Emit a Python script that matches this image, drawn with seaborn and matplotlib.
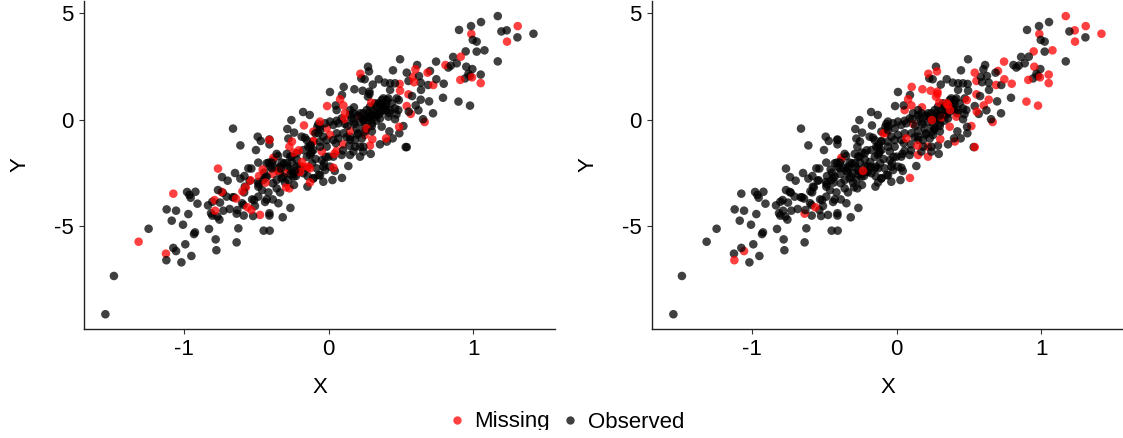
import numpy as np
import pandas as pd
import matplotlib
matplotlib.use("Agg")
import matplotlib.pyplot as plt
from matplotlib.lines import Line2D
from matplotlib.patches import Rectangle
import seaborn as sns

# observed in both panels
oo = [(-1.544,-9.15),(-1.485,-7.35),(-1.245,-5.13),(-1.074,-6.03),(-1.018,-6.71),(-0.949,-6.41),(-0.991,-5.86),
(-0.931,-5.38),(-0.924,-5.30),(-1.085,-4.75),(-1.007,-4.94),(-1.120,-4.22),(-1.055,-4.28),(-0.970,-4.44),(-0.907,-3.95),
(-0.979,-3.40),(-0.921,-3.39),(-0.963,-3.54),(-0.954,-3.67),(-0.834,-4.03),(-0.827,-5.14),(-0.781,-5.63),(-0.776,-6.14),
(-0.636,-5.77),(-0.624,-5.11),(-0.449,-5.22),(-0.407,-5.22),(-0.409,-4.40),(-0.409,-4.51),(-0.317,-4.59),(-0.264,-4.15),
(-0.813,-4.40),(-0.804,-4.51),(-0.769,-4.56),(-0.755,-4.70),(-0.728,-4.28),(-0.684,-4.20),(-0.631,-4.25),(-0.587,-4.51),
(-0.522,-4.53),(-0.804,-3.86),(-0.751,-3.90),(-0.765,-3.31),(-0.732,-3.43),(-0.705,-3.62),(-0.663,-3.65),(-0.654,-3.65),
(-0.598,-3.93),(-0.589,-4.01),(-0.529,-3.75),(-0.515,-3.78),(-0.509,-4.06),(-0.486,-3.62),(-0.439,-3.87),(-0.428,-3.75),
(-0.386,-3.75),(-0.347,-3.93),(-0.416,-3.42),(-0.336,-3.42),(-0.359,-3.23),(-0.460,-3.31),(-0.584,-3.42),(-0.579,-3.15),
(-0.483,-3.03),(-0.488,-2.93),(-0.546,-2.87),(-0.610,-2.77),(-0.582,-2.65),(-0.647,-2.51),(-0.737,-2.70),(-0.698,-2.87),
(-0.555,-2.29),(-0.534,-2.30),(-0.486,-2.02),(-0.502,-1.43),(-0.610,-1.21),(-0.661,-0.42),(-0.490,-0.80),(-0.469,-1.00),
(-0.409,-0.93),(-0.409,-1.16),(-0.285,-0.44),(-0.257,-0.02),(-0.176,0.36),(-0.130,0.22),(-0.238,-0.61),(-0.278,-0.89),
(-0.289,-1.61),(-0.255,-1.74),(-0.359,-1.61),(-0.349,-1.71),(-0.414,-2.02),(-0.393,-2.02),(-0.324,-2.02),(-0.446,-2.49),
(-0.437,-2.73),(-0.386,-2.99),(-0.393,-2.29),(-0.340,-2.49),(-0.324,-2.76),(-0.301,-2.96),(-0.239,-3.07),(-0.146,-3.15),
(-0.105,-2.76),(-0.144,-2.66),(-0.206,-2.46),(-0.262,-2.57),(-0.243,-2.52),(-0.225,-2.65),(-0.308,-2.05),(-0.253,-2.02),
(-0.220,-1.87),(-0.114,-2.05),(-0.123,-1.19),(-0.123,-1.58),(-0.105,-1.43),(-0.186,-0.80),(-0.163,-0.85),(-0.140,-1.27),
(-0.077,-0.33),(-0.070,-0.20),(-0.068,-2.60),
(1.055,4.59),(0.986,4.40),(0.903,4.22),(1.196,4.15),(1.307,3.87),(0.998,3.75),(1.025,3.67),(1.025,3.20),(0.862,2.95),
(1.171,2.74),(0.846,2.54),(0.829,2.45),(0.887,2.65),(0.995,2.38),(0.968,2.15),(0.979,2.05),(0.945,1.94),(0.792,1.03),
(0.696,0.86),(0.723,0.30),(0.654,0.02),(0.622,0.44),(0.640,1.40),(0.638,1.74),(0.613,2.57),(0.626,2.05),(0.495,2.84),
(0.446,2.32),(0.460,1.71),(0.426,1.71),(0.389,1.74),(0.347,1.90),(0.306,1.65),(0.273,2.49),(0.250,1.90),(0.227,1.94),
(0.010,1.30),(0.093,1.16),(0.050,0.67),(0.149,0.45),(0.056,-0.05),(0.010,-0.09),(-0.059,-0.49),(0.172,-0.09),(0.255,0.06),
(0.276,0.30),(0.310,0.45),(0.368,0.92),(0.414,1.00),(0.426,1.40),(0.578,1.11),(0.472,1.00),(0.437,0.77),(0.483,0.45),
(0.490,-0.64),(0.421,-0.55),(0.444,-0.88),(0.356,-1.16),(0.292,-1.61),(0.534,-1.29),(0.299,-0.30),(0.249,-0.56),(0.460,0.02),
(0.356,0.06),(0.287,0.61),(0.241,-1.27),(0.184,-1.27),(0.091,-1.66),(0.126,-0.83),(-0.013,-0.96),(-0.013,-1.27),(-0.059,-1.03),
(-0.117,-1.50),(-0.129,-1.66),(-0.031,-2.05),(-0.047,-1.90),(0.043,-2.41),(0.137,-2.18),(0.027,-2.84),(-0.036,-2.92),
(-0.059,-2.62),(-0.105,-2.76),(0.010,-2.21),(-0.082,-2.29),(-0.036,-2.21),
(0.20,0.20),(0.22,0.30),(0.30,0.20),(0.33,0.35),(0.38,0.60),(0.40,0.75),(0.25,-0.30),(0.30,-0.55),(0.15,-0.95),(0.20,-0.70),
(0.05,-1.10),(0.10,-1.45),(-0.02,-1.75),(-0.09,-1.85),(-0.20,-2.20),(-0.15,-1.75),(-0.28,-2.25),(-0.33,-2.30),(-0.37,-2.25),
(0.241,0.30),(0.264,0.45),(0.322,0.77),(0.333,0.61),(0.379,1.00),(0.403,0.92),(0.391,0.61),(0.426,0.45),(0.460,0.53),
(0.299,0.22),(0.276,-0.02),(0.299,-0.17),(0.333,0.22),(0.368,0.38),(0.241,-0.02),(0.149,0.22),(0.172,0.30),(0.091,0.06),
(0.068,-0.17),(0.033,-0.25),(-0.024,-0.17),(-0.059,-0.33),(0.195,-0.41),(0.206,-0.64),(0.230,-0.88),(0.183,-0.96),
(0.149,-0.80),(0.056,-0.64),(0.033,-0.96),(0.103,-0.64),(-0.036,-0.80),(-0.128,-1.27),
(0.0,-1.74),(0.033,-1.74),(0.172,-1.50),(0.241,-1.50),(-0.024,-2.37),(-0.151,-2.29),
(-0.428,-2.05),(-0.405,-2.21),(-0.382,-1.90),(-0.336,-2.21),(-0.289,-2.05),(-0.266,-2.37),(-0.243,-2.68),(-0.313,-2.68),
(-0.359,-2.84),(-0.428,-2.68),(-0.451,-2.84),(-0.486,-3.15),(-0.278,-2.84),(-0.220,-2.21),(-0.174,-2.52),(-0.266,-1.74),
(-0.220,-1.58),(-0.174,-1.43),(-0.151,-0.96),(-0.059,-1.27),
(0.16,0.05),(0.22,-0.10),(0.28,0.10),(0.35,0.25),(0.42,0.30),(0.47,0.25),(0.40,0.45),(0.33,-0.05),(0.26,-0.45),(0.18,-0.20),(0.13,-0.30)]

# red in the left panel only
mo = [(-1.314,-5.74),(-1.125,-6.30),(-1.074,-3.48),(-0.474,-4.48),(-0.534,-4.25),(-0.785,-4.28),(-0.788,-3.78),(-0.739,-3.40),
(-0.640,-3.71),(-0.596,-3.37),(-0.572,-3.18),(-0.539,-2.85),(-0.765,-2.30),(-0.409,-0.96),(-0.170,-0.27),(-0.253,-1.03),
(-0.271,-1.27),(-0.206,-1.44),(-0.241,-1.55),(-0.456,-2.34),(-0.481,-2.65),(-0.435,-2.96),(-0.389,-2.55),(-0.347,-2.40),
(-0.301,-2.52),(-0.271,-3.23),(-0.294,-3.18),(-0.128,-2.95),(-0.197,-2.46),(-0.183,-1.99),(-0.179,-2.21),(-0.142,-2.21),
(-0.128,-2.29),(-0.105,-1.03),(-0.105,-0.56),(-0.059,-0.09),
(0.915,2.96),(0.809,2.57),(0.725,1.63),(0.685,2.21),(0.601,2.37),(0.583,2.02),(0.592,1.76),(0.492,1.68),(-0.010,0.64),
(0.114,0.30),(0.109,0.03),(-0.013,-0.41),(0.010,-0.72),(0.149,-0.53),(0.218,0.14),(0.495,1.36),(0.541,0.64),(0.569,0.27),
(0.488,-0.34),(0.398,-0.88),(0.287,-1.22),(0.264,-0.41),(0.253,-0.72),(0.056,-1.46),(0.040,-1.61),(0.098,-1.16),
(-0.105,-1.00),(-0.047,-1.50),(0.034,-2.26)]

# red in the right panel only
om = [(1.171,4.87),(1.233,4.20),(1.418,4.04),(0.949,3.21),(1.079,3.26),(0.744,2.73),(0.953,2.49),(1.053,2.12),(0.899,0.85),
(0.979,0.66),(0.797,1.69),(0.746,1.90),(0.689,1.63),(0.638,0.94),(0.603,0.67),(0.541,2.21),(0.702,2.29),(0.541,-1.29),
(0.518,-0.30),(0.553,1.82),(0.280,2.27),(0.179,1.43),(0.105,1.54),(0.236,1.36),(0.283,1.32),(0.056,0.45),(0.414,0.14),
(0.368,-0.33),(0.403,-1.03),(0.068,-0.88),(0.144,-1.22),(0.149,-1.66),(0.218,-1.74),(0.093,-2.74),(0.218,-1.27),(0.486,0.92),
(0.347,0.77),(0.370,0.45),(0.313,0.11),(0.244,-0.02),(0.176,0.58),(0.114,-0.20),(0.283,1.21),(0.273,1.08),(0.555,0.38),
(-0.091,-0.64),(-0.070,-0.64),(-0.232,-2.41),(-0.636,-4.42),(-1.122,-6.61),(-1.055,-6.18),(0.356,0.69)]

# red in both panels
mm = [(1.309,4.40),(1.235,3.67),(0.988,4.03),(0.993,1.99),(1.053,1.72),(0.912,1.87),(0.220,2.16),(0.080,0.96),(0.103,0.67),
(0.296,0.80),(0.303,-0.92),(0.665,-0.11),(0.553,1.19),(-0.561,-4.12),(-0.382,-1.79)]

rows = [(x, y, "Observed", "Observed") for x, y in oo]
rows += [(x, y, "Missing", "Observed") for x, y in mo]
rows += [(x, y, "Observed", "Missing") for x, y in om]
rows += [(x, y, "Missing", "Missing") for x, y in mm]
df = pd.DataFrame(rows, columns=["X", "Y", "left", "right"])
# mixed drawing order: neither group sits wholly on top
df = df.iloc[np.argsort((df["X"].to_numpy() * 1000).round() % 7, kind="stable")]

palette = {"Missing": "#ff0000", "Observed": "#000000"}
W, H = 1123, 438

sns.set_theme(style="ticks")
plt.rcParams["font.family"] = ["Liberation Sans", "DejaVu Sans"]

fig = plt.figure(figsize=(W / 100, H / 100), dpi=100)
ax1 = fig.add_axes([84 / W, 1 - 328.5 / H, 471 / W, 327.5 / H])
ax2 = fig.add_axes([652 / W, 1 - 328.5 / H, 471 / W, 327.5 / H])

for ax, col in ((ax1, "left"), (ax2, "right")):
    sns.scatterplot(data=df, x="X", y="Y", hue=col, palette=palette, s=38, alpha=0.75,
                    linewidth=0, legend=False, ax=ax)
    ax.set_xlim(-1.692, 1.567)
    ax.set_ylim(-9.82, 5.58)
    ax.set_xticks([-1, 0, 1])
    ax.set_xticklabels(["-1", "0", "1"])
    ax.set_yticks([-5, 0, 5])
    ax.set_yticklabels(["-5", "0", "5"])
    ax.tick_params(axis="both", labelsize=16, length=3.5, width=0.8, color="#333333",
                   labelcolor="black", pad=4)
    ax.set_xlabel("X", fontsize=16, color="black", labelpad=12)
    ax.set_ylabel("Y", fontsize=16, color="black", labelpad=17)
    sns.despine(ax=ax)
    for side in ("left", "bottom"):
        ax.spines[side].set_linewidth(1.0)
        ax.spines[side].set_color("#222222")

handles = [Line2D([], [], marker="o", linestyle="", color=palette[k], alpha=0.75,
                  markersize=6, markeredgewidth=0, label=k) for k in ("Missing", "Observed")]
fig.legend(handles=handles, ncol=2, frameon=False, fontsize=16, loc="center", labelcolor="black",
           bbox_to_anchor=(562.5 / W, 1 - 422 / H), handletextpad=0.1, columnspacing=0.2,
           borderpad=0, handlelength=1.4)
# the reference crops the legend's descenders at its lower edge
fig.add_artist(Rectangle((0, 0), 1, 8 / H, transform=fig.transFigure, facecolor="white",
                         edgecolor="none", zorder=20))

fig.savefig("out.png", dpi=100)
